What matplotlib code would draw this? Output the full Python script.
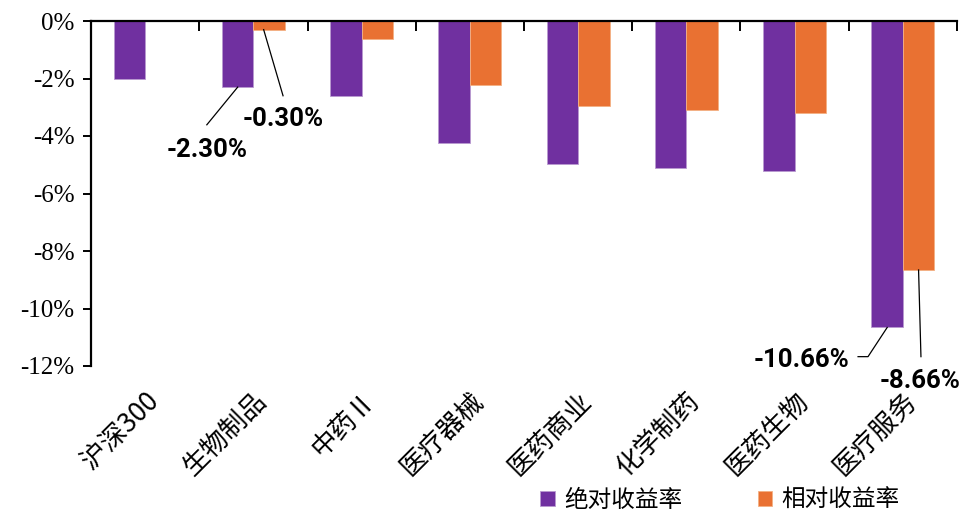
import matplotlib
matplotlib.use("Agg")
import matplotlib.pyplot as plt
import numpy as np

categories = ["沪深300", "生物制品", "中药Ⅱ", "医疗器械", "医药商业", "化学制药", "医药生物", "医疗服务"]
absolute_ret = [-2.00, -2.30, -2.62, -4.24, -4.96, -5.10, -5.22, -10.66]
relative_ret = [np.nan, -0.30, -0.61, -2.23, -2.97, -3.10, -3.21, -8.66]
series_names = ["绝对收益率", "相对收益率"]
yticks = [0, -2, -4, -6, -8, -10, -12]
ytick_labels = ["0%", "-2%", "-4%", "-6%", "-8%", "-10%", "-12%"]

purple = "#7030A0"
orange = "#E97132"
cjk = ["Noto Sans CJK SC", "DejaVu Sans"]

fig = plt.figure(figsize=(9.62, 5.15), dpi=100)
ax = fig.add_axes([91/962, 1-366/515, (957-91)/962, (366-21)/515])

x = np.arange(len(categories))
w = 0.29
ax.bar(x - w/2, absolute_ret, width=w, color=purple, edgecolor="#B99AD0", linewidth=0.6, label=series_names[0])
ax.bar(x + w/2, relative_ret, width=w, color=orange, edgecolor="#F4B183", linewidth=0.6, label=series_names[1])

ax.set_xlim(-0.5, len(categories) - 0.5)
ax.set_ylim(-12, 0)

ax.spines["bottom"].set_visible(False)
ax.spines["right"].set_visible(False)
ax.spines["top"].set_linewidth(1.6)
ax.spines["left"].set_linewidth(1.6)

ax.set_yticks(yticks)
ax.set_yticklabels(ytick_labels, fontfamily=["Liberation Serif", "DejaVu Serif"], fontsize=18)
ax.tick_params(axis="y", direction="out", length=6, width=1.4, pad=6)

ax.set_xticks(x)
ax.set_xticklabels(categories, rotation=45, ha="right", rotation_mode="anchor",
                   fontfamily=cjk, fontsize=19)
ax.tick_params(axis="x", which="major", length=0, pad=15)
ax.set_xticks(np.arange(len(categories)) + 0.5, minor=True)
ax.tick_params(axis="x", which="minor", top=True, bottom=False, direction="in", length=7, width=1.4)

def label(i, series, text, tx, ty, pts, ha="center"):
    vals = absolute_ret if series == 0 else relative_ret
    bx = i - w/2 if series == 0 else i + w/2
    xs = [bx + pts[0][0]] + [p[0] for p in pts[1:]]
    ys = [vals[i]] + [p[1] for p in pts[1:]]
    ax.plot(xs, ys, color="black", lw=0.9, clip_on=False)
    ax.text(tx, ty, text, ha=ha, va="center", fontsize=18.5, fontweight="bold",
            fontfamily=["Roboto", "DejaVu Sans"], clip_on=False)

label(1, 0, "-2.30%", 0.57, -4.48, [(0.0, None), (0.57, -3.61)])
label(1, 1, "-0.30%", 1.274, -3.42, [(-0.05, None), (1.274, -2.6)])
label(7, 0, "-10.66%", 6.06, -11.78, [(0.0, None), (6.678, -11.675), (6.586, -11.675)])
label(7, 1, "-8.66%", 7.158, -12.51, [(0.0, None), (7.167, -11.675)])

leg = fig.legend(loc="center", bbox_to_anchor=(720/962, 1-500/515), ncol=2, frameon=False,
                 prop={"family": cjk, "size": 17}, handlelength=0.6, handleheight=0.6,
                 handletextpad=0.4, columnspacing=3.2, borderpad=0)

fig.savefig("out.png", dpi=100)
